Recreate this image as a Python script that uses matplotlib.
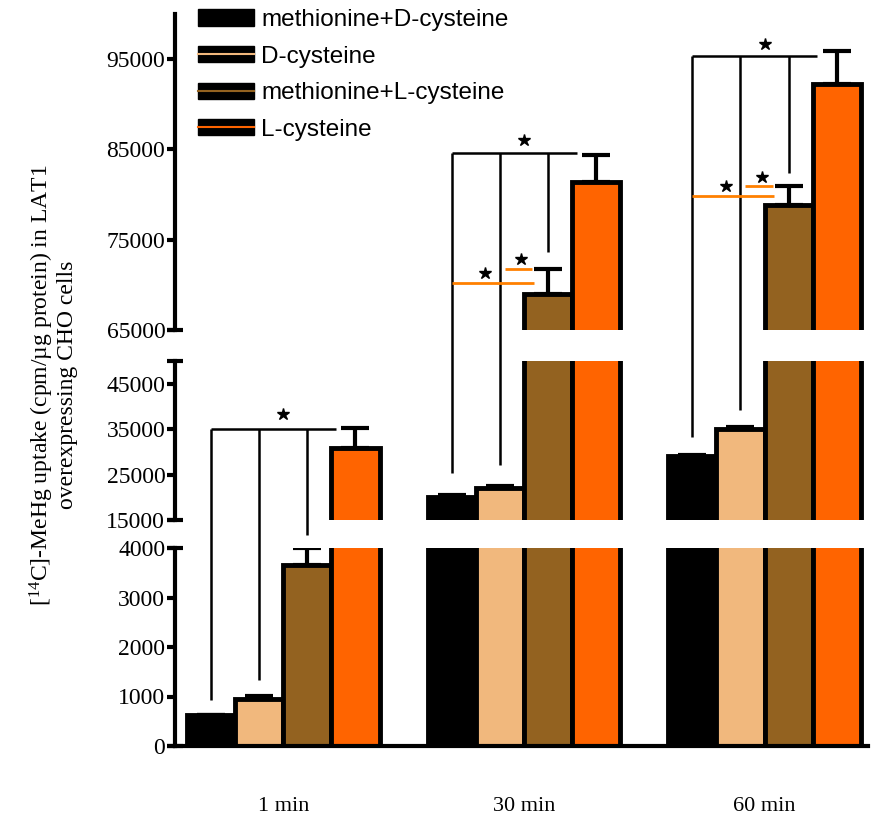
import numpy as np
import matplotlib
matplotlib.use('Agg')
import matplotlib.pyplot as plt
import matplotlib.transforms as mtrans
from matplotlib.lines import Line2D
from matplotlib.patches import Patch
from matplotlib.legend_handler import HandlerTuple

plt.rcParams['font.family'] = ['Liberation Serif', 'DejaVu Serif']
plt.rcParams['mathtext.fontset'] = 'custom'
plt.rcParams['mathtext.rm'] = 'Liberation Serif'

# data
groups = ['1 min', '30 min', '60 min']
series = ['methionine+D-cysteine', 'D-cysteine', 'methionine+L-cysteine', 'L-cysteine']
colors = ['#000000', '#F1B87D', '#936220', '#FF6400']
met_d = [620, 20150, 29100]
met_d_err = [0, 300, 300]
d_cys = [950, 22100, 35000]
d_cys_err = [60, 400, 500]
met_l = [3650, 69000, 78900]
met_l_err = [350, 2800, 2100]
l_cys = [30900, 81400, 92300]
l_cys_err = [4400, 3000, 3600]

values = [met_d, d_cys, met_l, l_cys]
errors = [met_d_err, d_cys_err, met_l_err, l_cys_err]

# broken axis segments: (low, high, ticks)
seg_top = (65000, 100000, [65000, 75000, 85000, 95000])
seg_mid = (15000, 50000, [15000, 25000, 35000, 45000])
seg_bot = (0, 4000, [0, 1000, 2000, 3000, 4000])

# significance marks: black brackets (bracket y, drop ends), orange lines
bracket_y = [('mid', 35100), ('top', 84600), ('top', 95300)]
bracket_drops = [
    [(-0.3, 'bot', 930), (-0.1, 'bot', 1330), (0.1, 'bot', 4270)],
    [(-0.3, 'mid', 25300), (-0.1, 'mid', 27000), (0.1, 'top', 73600)],
    [(-0.3, 'mid', 33200), (-0.1, 'mid', 39300), (0.1, 'top', 82400)],
]
bracket_star = [('mid', 38400), ('top', 86000), ('top', 96700)]
orange_long = [None, 70200, 79800]
orange_short = [None, 71750, 80900]

W, H = 874, 819
fig = plt.figure(figsize=(W / 100, H / 100), dpi=100)
left, right = 175, 868


def add_ax(top_px, bot_px):
    return fig.add_axes([left / W, 1 - bot_px / H, (right - left) / W, (bot_px - top_px) / H])


ax_top = add_ax(14, 330)
ax_mid = add_ax(361, 520)
ax_bot = add_ax(548, 746)
axes = {'top': ax_top, 'mid': ax_mid, 'bot': ax_bot}

w = 0.2
x = np.arange(len(groups))
offsets = [-1.5 * w, -0.5 * w, 0.5 * w, 1.5 * w]

for ax, seg in [(ax_top, seg_top), (ax_mid, seg_mid), (ax_bot, seg_bot)]:
    for i in range(4):
        ax.bar(x + offsets[i], values[i], w, color=colors[i], edgecolor='black',
               linewidth=3.5, zorder=2)
        ax.errorbar(x + offsets[i], values[i], yerr=[[0] * 3, errors[i]], fmt='none',
                    ecolor='black', elinewidth=3, capsize=10, capthick=3, zorder=3)
    ax.set_xlim(-0.45, 2.43)
    ax.set_ylim(seg[0], seg[1])
    ax.set_yticks(seg[2])
    ax.tick_params(axis='y', length=6, width=3, labelsize=17, pad=1)
    for s in ['top', 'right']:
        ax.spines[s].set_visible(False)
    ax.spines['left'].set_linewidth(3)
    if ax is not ax_bot:
        ax.spines['bottom'].set_visible(False)
        ax.set_xticks([])
    # little caps at the broken ends
    tr = mtrans.blended_transform_factory(ax.transAxes, ax.transData)
    cap = 8 / (right - left)
    ends = [seg[0]] if ax is ax_top else [seg[0], seg[1]]
    for yv in ends:
        ax.plot([-cap, cap], [yv, yv], color='black', lw=3, transform=tr,
                clip_on=False, solid_capstyle='butt')

ax_bot.spines['bottom'].set_linewidth(3)
ax_bot.set_xticks(x)
ax_bot.set_xticklabels(groups, fontsize=16)
ax_bot.tick_params(axis='x', length=0, pad=37)

inv = fig.transFigure.inverted()


def fpt(seg, xv, yv):
    return inv.transform(axes[seg].transData.transform((xv, yv)))


def fline(p0, p1, color='black', lw=1.8):
    fig.add_artist(Line2D([p0[0], p1[0]], [p0[1], p1[1]], transform=fig.transFigure,
                          color=color, lw=lw, solid_capstyle='butt'))


def fstar(p):
    fig.add_artist(Line2D([p[0]], [p[1]], transform=fig.transFigure, marker='*',
                          markersize=9, color='black', linestyle='none'))


for g in range(len(groups)):
    bseg, by = bracket_y[g]
    fline(fpt(bseg, g - 0.3, by), fpt(bseg, g + 0.22, by))
    for dx, dseg, dy in bracket_drops[g]:
        fline(fpt(bseg, g + dx, by), fpt(dseg, g + dx, dy))
    sseg, sy = bracket_star[g]
    fstar(fpt(sseg, g, sy))
    if orange_long[g] is not None:
        fline(fpt('top', g - 0.3, orange_long[g]), fpt('top', g + 0.04, orange_long[g]),
              color='#FF8000', lw=2)
        fline(fpt('top', g - 0.08, orange_short[g]), fpt('top', g + 0.035, orange_short[g]),
              color='#FF8000', lw=2)
        fstar(fpt('top', g - 0.16, orange_long[g] + 1100))
        fstar(fpt('top', g - 0.01, orange_short[g] + 1100))

ylab = '[$\\mathregular{^{14}}$C]-MeHg uptake (cpm/\u00b5g protein) in LAT1\noverexpressing CHO cells'
fig.text(53 / W, 1 - 385 / H, ylab, rotation=90, ha='center', va='center',
         multialignment='center', fontsize=17, linespacing=1.05)

handles = [Patch(facecolor='black', edgecolor='black')]
for c in colors[1:]:
    handles.append((Patch(facecolor='black', edgecolor='black'), Line2D([], [], color=c, lw=1.5)))
fig.legend(handles, series, loc='upper left', bbox_to_anchor=(198 / W, 1 - 9 / H),
           frameon=False, prop={'family': 'Liberation Sans', 'size': 17.5},
           handlelength=2.3, handleheight=0.65, handletextpad=0.3, labelspacing=0.6,
           borderpad=0, borderaxespad=0,
           handler_map={tuple: HandlerTuple(ndivide=1)})

fig.savefig('out.png', dpi=100)
